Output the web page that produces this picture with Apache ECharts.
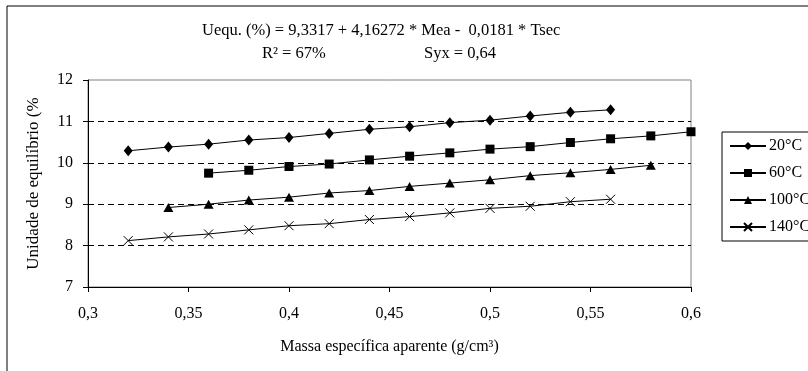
<!DOCTYPE html>
<html>
<head>
<meta charset="utf-8">
<script src="https://cdn.jsdelivr.net/npm/echarts@6/dist/echarts.min.js"></script>
<style>
  html, body { margin: 0; padding: 0; background: #fff; }
  #main { width: 808px; height: 371px; }
</style>
</head>
<body>
<div id="main"></div>
<script>
// massa específica aparente (g/cm³)
const mea20 = [0.32, 0.34, 0.36, 0.38, 0.40, 0.42, 0.44, 0.46, 0.48, 0.50, 0.52, 0.54, 0.56]
const mea60 = [0.36, 0.38, 0.40, 0.42, 0.44, 0.46, 0.48, 0.50, 0.52, 0.54, 0.56, 0.58, 0.60]
const mea100 = [0.34, 0.36, 0.38, 0.40, 0.42, 0.44, 0.46, 0.48, 0.50, 0.52, 0.54, 0.56, 0.58]
const mea140 = [0.32, 0.34, 0.36, 0.38, 0.40, 0.42, 0.44, 0.46, 0.48, 0.50, 0.52, 0.54, 0.56]

// umidade de equilíbrio (%)
const ueq20 = [10.29, 10.38, 10.45, 10.55, 10.61, 10.71, 10.81, 10.87, 10.97, 11.03, 11.13, 11.22, 11.28]
const ueq60 = [9.75, 9.82, 9.91, 9.97, 10.07, 10.16, 10.24, 10.33, 10.39, 10.49, 10.58, 10.65, 10.75]
const ueq100 = [8.92, 9.0, 9.1, 9.17, 9.27, 9.33, 9.43, 9.51, 9.59, 9.69, 9.76, 9.84, 9.94]
const ueq140 = [8.12, 8.21, 8.28, 8.38, 8.48, 8.53, 8.63, 8.70, 8.79, 8.90, 8.95, 9.06, 9.12]

const seriesNames = ['20°C', '60°C', '100°C', '140°C']

const FONT = '"Liberation Serif", "DejaVu Serif", serif'

function pairs(xs, ys) {
  return xs.map((x, i) => [x, ys[i]])
}

const xMark = 'path://M0,0L10,10M10,0L0,10'

const chartDom = echarts.init(document.getElementById('main'))
const option = {
  animation: false,
  textStyle: { fontFamily: FONT, color: '#000' },
  graphic: [
    {
      type: 'rect',
      shape: { x: 7, y: 6, width: 900, height: 400 },
      style: { fill: 'none', stroke: '#000', lineWidth: 1 },
      silent: true,
    },
    {
      type: 'text',
      x: 202,
      y: 31,
      style: {
        text: 'Uequ. (%) = 9,3317 + 4,16272 * Mea -  0,0181 * Tsec',
        font: '16.5px ' + FONT,
        fill: '#000',
        verticalAlign: 'middle',
      },
    },
    {
      type: 'text',
      x: 262,
      y: 54,
      style: { text: 'R² = 67%', font: '16.5px ' + FONT, fill: '#000', verticalAlign: 'middle' },
    },
    {
      type: 'text',
      x: 424,
      y: 54,
      style: { text: 'Syx = 0,64', font: '16.5px ' + FONT, fill: '#000', verticalAlign: 'middle' },
    },
  ],
  grid: {
    left: 88,
    right: 117,
    top: 80,
    bottom: 84,
    show: true,
    borderColor: '#808080',
    borderWidth: 1,
  },
  legend: {
    orient: 'vertical',
    left: 722,
    top: 132,
    padding: [6, 30, 6, 7],
    itemGap: 11,
    itemWidth: 36,
    itemHeight: 10,
    backgroundColor: '#fff',
    borderColor: '#000',
    borderWidth: 1,
    borderRadius: 0,
    textStyle: { fontFamily: FONT, fontSize: 16, color: '#000', padding: [0, 0, 0, -2] },
    data: seriesNames,
  },
  xAxis: {
    type: 'value',
    min: 0.3,
    max: 0.6,
    interval: 0.05,
    name: 'Massa específica aparente (g/cm³)',
    nameLocation: 'middle',
    nameGap: 52,
    nameTextStyle: { fontFamily: FONT, fontSize: 16, color: '#000' },
    axisLine: { show: true, lineStyle: { color: '#000', width: 1 } },
    axisTick: { show: true, inside: false, length: 5, lineStyle: { color: '#000' } },
    axisLabel: {
      fontFamily: FONT,
      fontSize: 16,
      color: '#000',
      margin: 19,
      formatter: (v) => String(Math.round(v * 100) / 100).replace('.', ','),
    },
    splitLine: { show: false },
  },
  yAxis: {
    type: 'value',
    min: 7,
    max: 12,
    interval: 1,
    name: 'Unidade de equilíbrio (%',
    nameLocation: 'middle',
    nameGap: 46,
    nameTextStyle: { fontFamily: FONT, fontSize: 17, color: '#000' },
    axisLine: { show: true, lineStyle: { color: '#000', width: 1 } },
    axisTick: { show: true, inside: false, length: 5, lineStyle: { color: '#000' } },
    axisLabel: { fontFamily: FONT, fontSize: 16, color: '#000', margin: 15 },
    splitLine: {
      show: true,
      lineStyle: {
        color: ['rgba(0,0,0,0)', '#000', '#000', '#000', '#000', 'rgba(0,0,0,0)'],
        type: [6, 4],
        width: 1,
      },
    },
  },
  series: [
    {
      name: seriesNames[0],
      type: 'line',
      data: pairs(mea20, ueq20),
      symbol: 'diamond',
      symbolSize: [9, 11],
      showAllSymbol: true,
      itemStyle: { color: '#000' },
      lineStyle: { color: '#000', width: 1 },
    },
    {
      name: seriesNames[1],
      type: 'line',
      data: pairs(mea60, ueq60),
      symbol: 'rect',
      symbolSize: 9,
      showAllSymbol: true,
      itemStyle: { color: '#000' },
      lineStyle: { color: '#000', width: 1 },
    },
    {
      name: seriesNames[2],
      type: 'line',
      data: pairs(mea100, ueq100),
      symbol: 'triangle',
      symbolSize: [10, 9],
      showAllSymbol: true,
      itemStyle: { color: '#000' },
      lineStyle: { color: '#000', width: 1 },
    },
    {
      name: seriesNames[3],
      type: 'line',
      data: pairs(mea140, ueq140),
      symbol: xMark,
      symbolSize: 9,
      showAllSymbol: true,
      itemStyle: { color: 'none', borderColor: '#000', borderWidth: 1 },
      lineStyle: { color: '#000', width: 1 },
    },
  ],
}
chartDom.setOption(option)
</script>
</body>
</html>
